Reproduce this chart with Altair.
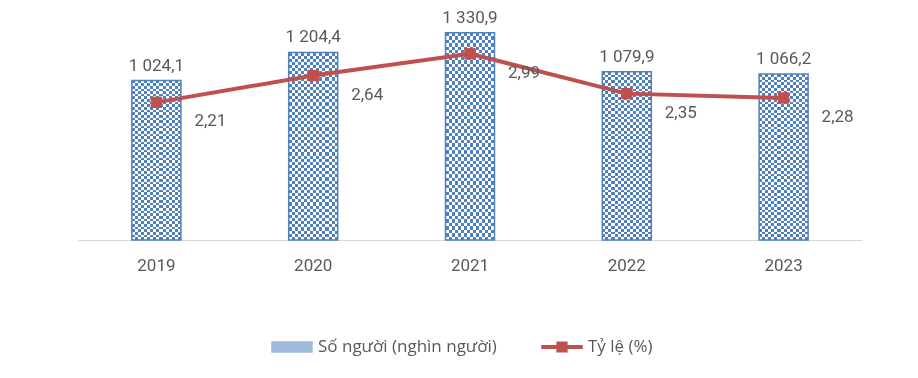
import altair as alt
import pandas as pd

# ---- data ----
years = ["2019", "2020", "2021", "2022", "2023"]
persons = [1024.1, 1204.4, 1330.9, 1079.9, 1066.2]   # nghìn người
rates = [2.21, 2.64, 2.99, 2.35, 2.28]               # %
series_names = ["Số người (nghìn người)", "Tỷ lệ (%)"]


def fmt(v, d):
    s = f"{v:,.{d}f}"
    return s.replace(",", " ").replace(".", ",")


df = pd.DataFrame({"year": years, "persons": persons, "rate": rates})
df["persons_label"] = [fmt(v, 1) for v in persons]
df["rate_label"] = [fmt(v, 2) for v in rates]
legend_df = pd.DataFrame({"series": series_names})

BLUE = "#4F81BD"
RED = "#C0504D"
TEXT = "#595959"
FONT = "Roboto"
FS = 17


def stripes(n, horizontal):
    stops = []
    for i in range(n):
        c = "black" if i % 2 == 0 else "white"
        stops.append(alt.GradientStop(offset=i / n, color=c))
        stops.append(alt.GradientStop(offset=(i + 1) / n, color=c))
    return alt.LinearGradient(
        gradient="linear", stops=stops,
        x1=0, y1=0, x2=1 if horizontal else 0, y2=0 if horizontal else 1,
    )


x_enc = alt.X(
    "year:N",
    sort=years,
    scale=alt.Scale(paddingInner=0.6875, paddingOuter=0.34375),
    axis=alt.Axis(
        title=None, labelAngle=0, ticks=False, tickSize=0, grid=False,
        domainColor="#D9D9D9", domainWidth=1,
        labelFont=FONT, labelFontSize=FS, labelColor=TEXT,
        labelBaseline="alphabetic", labelPadding=30,
    ),
)
y_bar = alt.Y("persons:Q", scale=alt.Scale(domain=[0, 1400], nice=False), axis=None)
y_line = alt.Y("rate:Q", scale=alt.Scale(domain=[0, 3.5], nice=False), axis=None)

base_bar = alt.Chart(df).encode(x=x_enc, y=y_bar)
# checkerboard pattern built from two stripe gradients and blend modes
b1 = base_bar.mark_bar(fill=stripes(16, True))
b2 = base_bar.mark_bar(fill=stripes(60, False), blend="difference")
b3 = base_bar.mark_bar(fill=BLUE, blend="screen")
b4 = base_bar.mark_bar(fill="transparent", stroke=BLUE, strokeWidth=1.5)
bar_text = base_bar.mark_text(
    align="center", baseline="alphabetic", dy=-10,
    font=FONT, fontSize=FS, color=TEXT,
).encode(text="persons_label:N")
bars = alt.layer(b1, b2, b3, b4, bar_text)

base_line = alt.Chart(df).encode(x=x_enc, y=y_line)
line = base_line.mark_line(color=RED, strokeWidth=4)
pts = base_line.mark_point(shape="square", filled=True, size=130, color=RED, opacity=1)
line_text = base_line.mark_text(
    align="center", baseline="middle", dx=54, dy=19,
    font=FONT, fontSize=FS, color=TEXT,
).encode(text="rate_label:N")
lines = alt.layer(line, pts, line_text)

rect_path = "M-1,-0.28H1V0.28H-1Z"
line_path = "M-1,-0.095H1V0.095H-1Z M-0.27,-0.27H0.27V0.27H-0.27Z"

leg = alt.Legend(
    orient="none", legendX=193, legendY=304, direction="horizontal",
    title=None, symbolSize=1722, symbolStrokeWidth=0, symbolOpacity=1,
    labelFont="Open Sans", labelFontSize=FS, labelColor=TEXT, labelOffset=5,
    labelLimit=400, columnPadding=44, padding=0,
)
legend_layer = alt.Chart(legend_df).mark_point(filled=True, opacity=0).encode(
    color=alt.Color("series:N", scale=alt.Scale(domain=series_names, range=["#9FBADC", RED]), legend=leg),
    shape=alt.Shape("series:N", scale=alt.Scale(domain=series_names, range=[rect_path, line_path]), legend=leg),
)

chart = alt.layer(bars, lines, legend_layer).resolve_scale(y="independent").properties(
    width=784, height=218,
    autosize=alt.AutoSizeParams(type="none"),
    padding={"left": 70, "top": 14, "right": 48, "bottom": 130},
    background="white",
).configure_view(stroke=None)

chart.save("out.html", embed_options={"renderer": "svg", "actions": False})
